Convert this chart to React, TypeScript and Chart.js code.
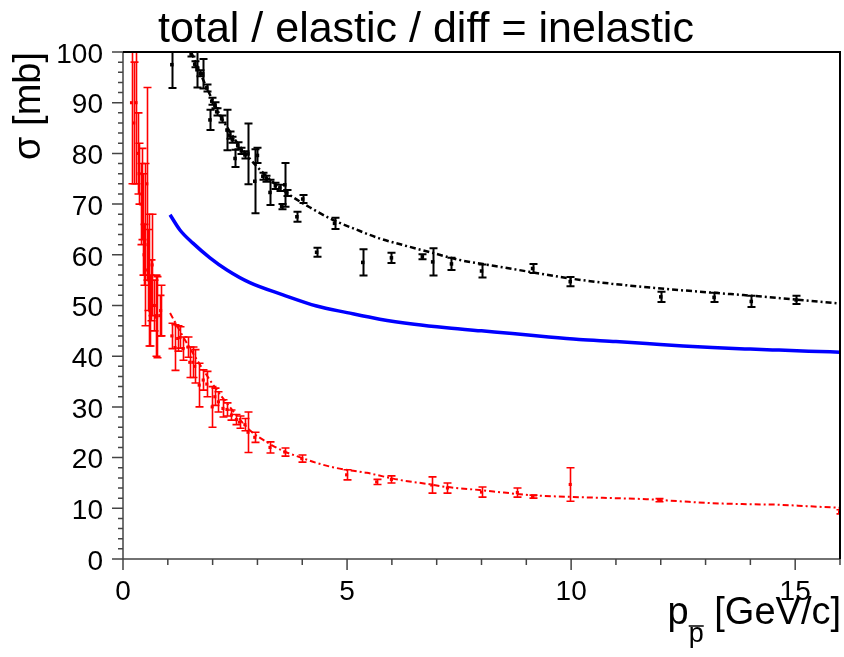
import React, { useEffect, useRef } from "react";
import { Chart, registerables } from "chart.js";
Chart.register(...registerables);

const FONT = "'Liberation Sans', Arial, Helvetica, sans-serif";
const TITLE = "total / elastic / diff = inelastic";
const Y_TITLE = "σ [mb]";
const X_TITLE_MAIN = "p";
const X_TITLE_SUB = "p";
const X_TITLE_UNIT = "[GeV/c]";

const X_MIN = 0, X_MAX = 16, Y_MIN = 0, Y_MAX = 100;

// Total cross section data (black)
const totalX = [1.09, 1.52, 1.6, 1.65, 1.72, 1.78, 1.87, 1.94, 1.98, 2.05, 2.09, 2.2, 2.32, 2.38, 2.44, 2.5, 2.56, 2.64, 2.72, 2.79, 2.94, 3.0, 3.12, 3.2, 3.28, 3.4, 3.5, 3.54, 3.61, 3.65, 3.88, 4.01, 4.32, 4.72, 5.35, 5.99, 6.68, 6.91, 7.33, 8.0, 9.14, 9.98, 12.0, 13.19, 14.02, 15.02];
const totalY = [97.5, 99.6, 97.6, 96.5, 95.8, 95.7, 92.9, 86.6, 90.3, 89.5, 88.2, 86.8, 84.6, 83.6, 82.7, 79.0, 81.5, 80.5, 79.7, 79.9, 74.5, 79.6, 75.5, 75.0, 72.3, 73.6, 73.2, 69.5, 73.8, 72.2, 67.5, 71.0, 60.5, 66.2, 58.5, 59.4, 59.6, 58.6, 58.2, 56.8, 57.3, 54.7, 51.7, 51.6, 50.8, 51.1];
const totalErr = [4.6, 0.5, 0.6, 3.5, 0.6, 2.9, 0.7, 2.0, 0.7, 0.6, 0.7, 0.7, 4.0, 0.7, 0.6, 1.7, 0.7, 0.6, 0.7, 6.0, 6.3, 1.5, 0.7, 0.6, 2.5, 0.6, 0.6, 0.5, 4.3, 0.6, 1.0, 0.8, 0.9, 1.1, 2.6, 1.0, 0.5, 2.7, 1.2, 1.3, 0.9, 0.9, 1.0, 0.9, 1.1, 0.8];

// Total cross section fit curve (black dash-dot)
const totalFitX = [1.52, 1.7, 1.87, 2.0, 2.16, 2.35, 2.54, 2.75, 2.99, 3.34, 3.72, 4.2, 4.68, 5.2, 5.7, 6.3, 6.9, 7.5, 8.3, 9.1, 10.0, 10.9, 12.2, 13.2, 14.6, 16.0];
const totalFitY = [100, 96.3, 92.9, 90.5, 87.6, 84.8, 82.2, 79.8, 77.4, 74.4, 71.8, 69.2, 66.9, 65.0, 63.3, 61.8, 60.4, 59.0, 57.8, 56.6, 55.3, 54.3, 53.2, 52.5, 51.5, 50.4];

// Inelastic curve (blue)
const inelX = [1.05, 1.27, 1.56, 1.94, 2.32, 2.83, 3.57, 4.32, 5.0, 5.73, 6.5, 7.22, 8.0, 8.69, 9.5, 10.18, 11.0, 11.68, 12.5, 13.15, 14.0, 14.64, 15.3, 16.0];
const inelY = [67.9, 64.9, 62.3, 59.4, 57.0, 54.5, 52.1, 49.9, 48.6, 47.3, 46.3, 45.6, 45.0, 44.5, 43.8, 43.3, 42.9, 42.5, 42.0, 41.7, 41.4, 41.2, 41.0, 40.8];

// Elastic cross section data (red)
const elasX = [0.19, 0.24, 0.29, 0.33, 0.36, 0.4, 0.42, 0.45, 0.47, 0.49, 0.53, 0.55, 0.58, 0.6, 0.63, 0.65, 0.7, 0.74, 0.75, 0.82, 0.84, 1.09, 1.16, 1.22, 1.27, 1.34, 1.45, 1.49, 1.56, 1.6, 1.7, 1.79, 1.87, 1.99, 2.05, 2.13, 2.23, 2.32, 2.42, 2.53, 2.6, 2.72, 2.79, 2.94, 3.28, 3.61, 3.99, 4.99, 5.66, 5.99, 6.89, 7.24, 8.0, 8.8, 9.14, 9.98, 11.97, 15.99];
const elasY = [90, 86, 90, 80, 76, 70, 72, 66, 60, 62, 74, 57, 55, 49, 53, 58, 50, 48, 47.7, 48, 49, 44, 41.7, 43.5, 43.7, 41.5, 41.8, 38.8, 38.8, 38, 34.3, 35.3, 34.5, 30, 32, 31, 29.7, 29.5, 28.4, 27.5, 27, 26.5, 25, 24, 22, 21.1, 19.8, 16.6, 15.2, 15.7, 14.6, 14, 13.2, 13.1, 12.3, 14.7, 11.6, 9.3];
const elasErr = [16, 12, 16, 8, 6, 8, 9, 10, 6, 16, 19, 8, 13, 7, 6, 10, 5, 8, 8, 4, 5, 2.5, 4.5, 2.5, 2.1, 2.3, 2, 3, 3, 3.3, 4.3, 2, 2.5, 4, 1.7, 2, 1.7, 1.3, 1, 1, 1.2, 1.2, 4, 1, 1.1, 0.8, 0.7, 1, 0.5, 0.7, 1.6, 1, 1, 0.9, 0.3, 3.3, 0.3, 0.4];

// Elastic fit curve (red dashed)
const elasFitX = [1.05, 1.3, 1.6, 2.0, 2.4, 2.83, 3.2, 3.6, 3.94, 4.3, 4.68, 5.05, 5.44, 5.8, 6.17, 6.8, 7.22, 7.96, 8.5, 9.07, 10.18, 11.0, 11.68, 12.4, 13.15, 14.0, 14.64, 15.3, 15.98];
const elasFitY = [48.5, 44.5, 40.0, 34.5, 29.8, 25.4, 23.1, 21.2, 20.1, 19.0, 18.1, 17.5, 17.0, 16.3, 15.6, 14.8, 14.2, 13.6, 13.1, 12.6, 12.2, 12.0, 11.8, 11.4, 11.0, 10.8, 10.7, 10.4, 10.1];

const X_LABELED = [0, 5, 10, 15];
const Y_LABELED = [0, 10, 20, 30, 40, 50, 60, 70, 80, 90, 100];

const pts = (xs: number[], ys: number[]) => xs.map((x, i) => ({ x, y: ys[i] }));

const errorBarPlugin = {
  id: "errorBars",
  afterDatasetsDraw(chart: any) {
    const { ctx, chartArea, scales } = chart;
    const xs = scales.x, ys = scales.y;
    ctx.save();
    ctx.beginPath();
    ctx.rect(chartArea.left, chartArea.top - 1, chartArea.right - chartArea.left, chartArea.bottom - chartArea.top + 1);
    ctx.clip();
    chart.data.datasets.forEach((ds: any) => {
      if (!ds.errors) return;
      ctx.strokeStyle = ds.errorColor;
      ctx.lineWidth = ds.errorWidth;
      const cap = ds.capHalf;
      ds.data.forEach((p: any, i: number) => {
        const e = ds.errors[i];
        const px = Math.round(xs.getPixelForValue(p.x)) + 0.5;
        const y1 = ys.getPixelForValue(p.y - e);
        const y2 = ys.getPixelForValue(p.y + e);
        ctx.beginPath();
        ctx.moveTo(px, y1);
        ctx.lineTo(px, y2);
        ctx.moveTo(px - cap, y1);
        ctx.lineTo(px + cap, y1);
        ctx.moveTo(px - cap, y2);
        ctx.lineTo(px + cap, y2);
        ctx.stroke();
      });
    });
    ctx.restore();
  },
};

const framePlugin = {
  id: "frameAndTitles",
  afterDraw(chart: any) {
    const { ctx, chartArea, scales } = chart;
    const { left, right, top, bottom } = chartArea;
    const xs = scales.x, ys = scales.y;
    ctx.save();
    ctx.strokeStyle = "#444";
    ctx.lineWidth = 1.5;
    ctx.beginPath();
    for (let v = X_MIN; v <= X_MAX; v += 1) {
      const px = xs.getPixelForValue(v);
      const len = v % 5 === 0 ? 11 : 6;
      ctx.moveTo(px, bottom);
      ctx.lineTo(px, bottom + len);
    }
    for (let v = Y_MIN; v <= Y_MAX; v += 2) {
      const py = ys.getPixelForValue(v);
      const len = v % 10 === 0 ? 11 : 5;
      ctx.moveTo(left, py);
      ctx.lineTo(left - len, py);
    }
    ctx.moveTo(left, top);
    ctx.lineTo(left, bottom);
    ctx.lineTo(right, bottom);
    ctx.stroke();
    ctx.strokeStyle = "#000";
    ctx.lineWidth = 2;
    ctx.beginPath();
    ctx.moveTo(left, top);
    ctx.lineTo(right, top);
    ctx.lineTo(right, bottom);
    ctx.stroke();

    ctx.fillStyle = "#000";
    ctx.font = `43px ${FONT}`;
    ctx.textAlign = "center";
    ctx.textBaseline = "alphabetic";
    ctx.fillText(TITLE, 426, 42);

    ctx.save();
    ctx.font = `38px ${FONT}`;
    ctx.translate(40, top);
    ctx.rotate(-Math.PI / 2);
    ctx.textAlign = "right";
    ctx.fillText(Y_TITLE, 0, 0);
    ctx.restore();

    ctx.textAlign = "left";
    ctx.font = `38px ${FONT}`;
    const unitW = ctx.measureText(X_TITLE_UNIT).width;
    const spaceW = ctx.measureText(" ").width;
    const mainW = ctx.measureText(X_TITLE_MAIN).width;
    ctx.font = `27px ${FONT}`;
    const subW = ctx.measureText(X_TITLE_SUB).width;
    const unitX = right + 1 - unitW;
    const subX = unitX - spaceW - subW;
    const mainX = subX - mainW;
    ctx.font = `38px ${FONT}`;
    ctx.fillText(X_TITLE_UNIT, unitX, 624);
    ctx.fillText(X_TITLE_MAIN, mainX, 624);
    ctx.font = `27px ${FONT}`;
    ctx.fillText(X_TITLE_SUB, subX, 642);
    ctx.lineWidth = 1.5;
    ctx.strokeStyle = "#000";
    ctx.beginPath();
    ctx.moveTo(subX, 626);
    ctx.lineTo(subX + subW, 626);
    ctx.stroke();
    ctx.restore();
  },
};

export default function App() {
  const ref = useRef<HTMLCanvasElement | null>(null);
  useEffect(() => {
    document.body.style.margin = "0";
    document.body.style.overflow = "hidden";
    const canvas = ref.current!;
    const chart = new Chart(canvas, {
      type: "scatter",
      data: {
        datasets: [
          {
            label: "inelastic",
            data: pts(inelX, inelY),
            showLine: true,
            borderColor: "#0000ff",
            borderWidth: 3.5,
            pointRadius: 0,
            cubicInterpolationMode: "monotone",
          } as any,
          {
            label: "total fit",
            data: pts(totalFitX, totalFitY),
            showLine: true,
            borderColor: "#000",
            borderWidth: 2.5,
            borderDash: [6, 3, 2, 3],
            pointRadius: 0,
            cubicInterpolationMode: "monotone",
          },
          {
            label: "elastic fit",
            data: pts(elasFitX, elasFitY),
            showLine: true,
            borderColor: "#ff0000",
            borderWidth: 2,
            borderDash: [6, 3, 2, 3],
            pointRadius: 0,
            cubicInterpolationMode: "monotone",
          },
          {
            label: "total",
            data: pts(totalX, totalY),
            errors: totalErr,
            errorColor: "#000",
            errorWidth: 2,
            capHalf: 4,
            pointStyle: "rect",
            pointRadius: 2.5,
            backgroundColor: "#000",
            borderColor: "#000",
            borderWidth: 0,
          },
          {
            label: "elastic",
            data: pts(elasX, elasY),
            errors: elasErr,
            errorColor: "#ff0000",
            errorWidth: 1.6,
            capHalf: 4,
            pointStyle: "rect",
            pointRadius: 2.2,
            backgroundColor: "#ff0000",
            borderColor: "#ff0000",
            borderWidth: 0,
          },
        ],
      } as any,
      options: {
        responsive: false,
        animation: false,
        events: [],
        layout: { padding: { left: 0, right: 3, top: 52, bottom: 0 } },
        plugins: { legend: { display: false }, tooltip: { enabled: false }, title: { display: false } },
        scales: {
          x: {
            type: "linear",
            min: X_MIN,
            max: X_MAX,
            afterFit: (s: any) => { s.height = 98; s.paddingLeft = 0; s.paddingRight = 0; },
            grid: { display: true, drawOnChartArea: false, drawTicks: false, color: "rgba(0,0,0,0)" },
            border: { display: false },
            ticks: {
              stepSize: 1,
              autoSkip: false,
              maxRotation: 0,
              padding: 16,
              color: "#000",
              font: { family: FONT, size: 28 },
              callback: (v: any) => (X_LABELED.includes(Number(v)) ? String(v) : ""),
            },
          },
          y: {
            type: "linear",
            min: Y_MIN,
            max: Y_MAX,
            afterFit: (s: any) => { s.width = 123; s.paddingTop = 0; s.paddingBottom = 0; },
            grid: { display: true, drawOnChartArea: false, drawTicks: false, color: "rgba(0,0,0,0)" },
            border: { display: false },
            ticks: {
              stepSize: 2,
              autoSkip: false,
              padding: 20,
              labelOffset: 3,
              color: "#000",
              font: { family: FONT, size: 28 },
              callback: (v: any) => (Y_LABELED.includes(Number(v)) ? String(v) : ""),
            },
          },
        },
      },
      plugins: [errorBarPlugin, framePlugin],
    });
    return () => chart.destroy();
  }, []);
  return (
    <canvas
      ref={ref}
      width={844}
      height={657}
      style={{ position: "absolute", left: 0, top: 0, width: 844, height: 657 }}
    />
  );
}
